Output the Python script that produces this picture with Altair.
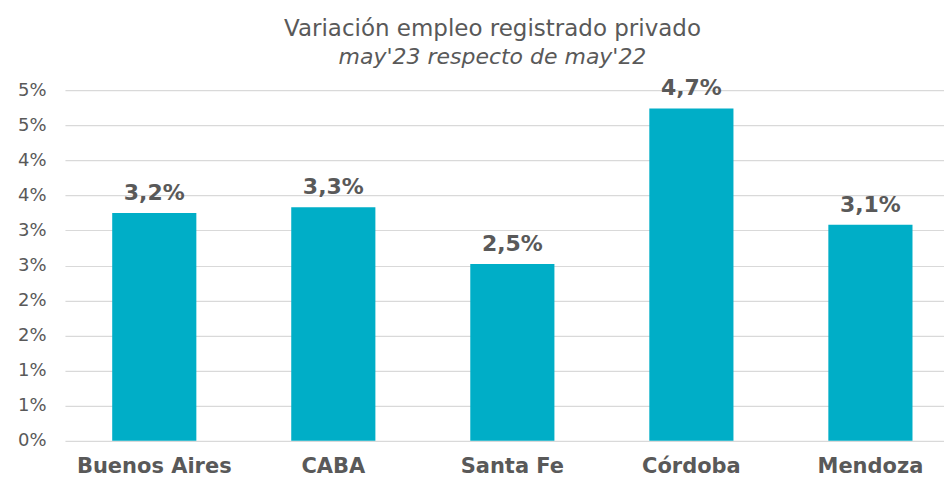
import altair as alt
import pandas as pd

provincias = ["Buenos Aires", "CABA", "Santa Fe", "Córdoba", "Mendoza"]
variacion = [3.25, 3.33, 2.52, 4.74, 3.08]
etiquetas = ["3,2%", "3,3%", "2,5%", "4,7%", "3,1%"]
y_ticks = [0, 0.5, 1.0, 1.5, 2.0, 2.5, 3.0, 3.5, 4.0, 4.5, 5.0]

df = pd.DataFrame({"prov": provincias, "val": variacion, "lab": etiquetas})

FONT = "DejaVu Sans"
GRAY = "#595959"

x = alt.X("prov:N", sort=provincias, title=None,
          scale=alt.Scale(paddingInner=0.53, paddingOuter=0.22, align=0.6),
          axis=alt.Axis(labelAngle=0, labelFont=FONT, labelFontSize=21, labelFontWeight="bold",
                        labelColor=GRAY, ticks=False, domain=False, labelPadding=15, grid=False))
y = alt.Y("val:Q", title=None,
          scale=alt.Scale(domain=[0, 5], nice=False),
          axis=alt.Axis(values=y_ticks, labelExpr="round(datum.value) + '%'", labelFont=FONT,
                        labelFontSize=18, labelColor=GRAY, ticks=False, domain=False,
                        labelOverlap=False, labelBaseline="middle",
                        labelPadding=19, gridColor="#d9d9d9", gridWidth=1.2))

base = alt.Chart(df).encode(x=x, y=y)
bars = base.mark_bar(color="#00AEC7")
labels = base.mark_text(font=FONT, fontSize=22, fontWeight="bold", color=GRAY,
                        baseline="bottom", dy=-8).encode(text="lab:N")

chart = (bars + labels).properties(
    width=880, height=351,
    autosize=alt.AutoSizeParams(type="none"),
    padding={"left": 57, "top": 82, "right": 0, "bottom": 45},
    title=alt.TitleParams(
        text="Variación empleo registrado privado",
        subtitle="may'23 respecto de may'22",
        anchor="middle", dx=-12, offset=9,
        font=FONT, fontSize=23, fontWeight="normal", color=GRAY,
        subtitleFont=FONT, subtitleFontSize=22, subtitleFontStyle="italic", subtitleColor=GRAY,
        subtitlePadding=6,
    ),
).configure_view(stroke=None)

chart.save("out.html", embed_options={"renderer": "svg", "actions": False})
